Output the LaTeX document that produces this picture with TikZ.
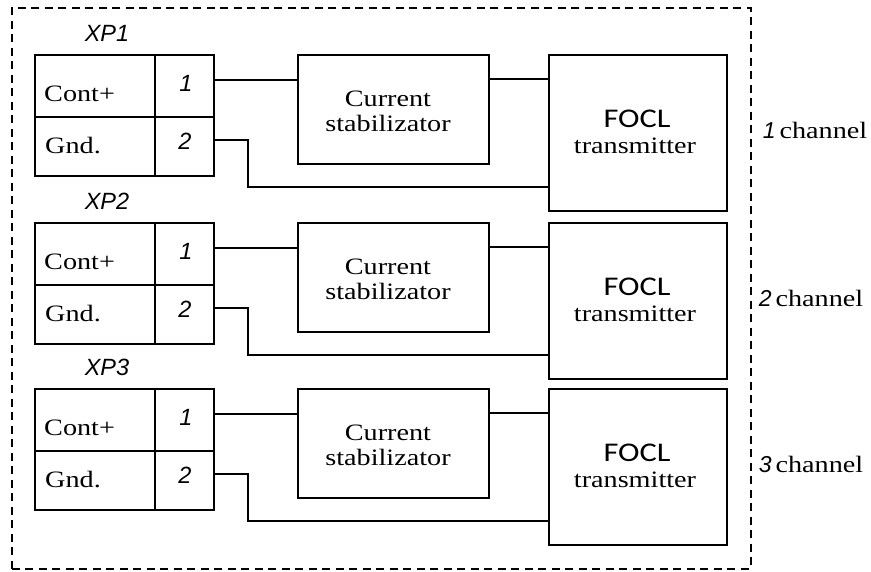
\documentclass[tikz,border=0pt]{standalone}
\usepackage{fontspec}
\newfontfamily\serifw{Liberation Serif}[FakeStretch=1.2]
\newfontfamily\arialf{Liberation Sans}
\newfontfamily\focl{Carlito}[FakeStretch=1.2]
\begin{document}
\begin{tikzpicture}[x=1pt,y=-1pt,
  wire/.style={line width=1.9pt},
  cell/.style={draw,line width=1.9pt,rectangle,inner sep=0pt,anchor=north west},
  serif/.style={font=\serifw\fontsize{23.5}{27}\selectfont,inner sep=0pt},
  pinlbl/.style={font=\arialf\itshape\fontsize{23.5}{25}\selectfont,inner sep=0pt},
  xplbl/.style={font=\arialf\itshape\fontsize{23.5}{25}\selectfont,inner sep=0pt},
  focllbl/.style={font=\focl\fontsize{27}{29}\selectfont,inner sep=0pt}]
\useasboundingbox (0,0) rectangle (871,571);
\node[draw,line width=1.7pt,dash pattern=on 8pt off 5.5pt,rectangle,inner sep=0pt,anchor=north west,
  minimum width=739pt,minimum height=561pt] (frame) at (11,7) {};
\foreach \i/\t/\ch/\cx in {1/54/1/815,2/222/2/811,3/388/3/811}{
  % connector cells
  \node[cell,minimum width=120pt,minimum height=62pt] (c\i) at (34,\t) {};
  \node[cell,minimum width=59pt,minimum height=62pt] (p\i) at (154,\t) {};
  \node[cell,minimum width=120pt,minimum height=59pt] (g\i) at (34,\t+62) {};
  \node[cell,minimum width=59pt,minimum height=59pt] (q\i) at (154,\t+62) {};
  \node[xplbl] (xp\i) at (107,\t-21) {XP\i};
  \node[serif,anchor=west] (ct\i) at (44,\t+40) {Cont+};
  \node[serif,anchor=west] (gt\i) at (45,\t+92) {Gnd.};
  \node[pinlbl] (n1\i) at (186,\t+29) {1};
  \node[pinlbl] (n2\i) at (185,\t+87) {2};
  % stabilizer
  \node[cell,minimum width=191pt,minimum height=109pt] (s\i) at (297,\t) {};
  \node[serif,align=center] (st\i) at (388,\t+57) {Current\\[-2pt]stabilizator};
  % transmitter
  \node[cell,minimum width=178pt,minimum height=156pt] (f\i) at (548,\t) {};
  \node[focllbl] (fo\i) at (637,\t+65) {FOCL};
  \node[serif] (tr\i) at (635,\t+92) {transmitter};
  % channel label
  \node[inner sep=0pt] (chl\i) at (\cx,\t+76) {{\arialf\itshape\fontsize{23}{25}\selectfont \ch}\hspace{4pt}{\serifw\fontsize{23.5}{27}\selectfont channel}};
  % wires
  \coordinate (a\i) at ([yshift=6pt]p\i.east);
  \draw[wire] (a\i) -- (a\i -| s\i.west);
  \coordinate (b\i) at ([yshift=30.5pt]s\i.east);
  \draw[wire] (b\i) -- (b\i -| f\i.west);
  \coordinate (d\i) at ([yshift=6.5pt]q\i.east);
  \coordinate (e\i) at ([yshift=-54pt]f\i.west);
  \draw[wire] (d\i) -- (d\i -| 248,0) |- (e\i);
}
\end{tikzpicture}
\end{document}
